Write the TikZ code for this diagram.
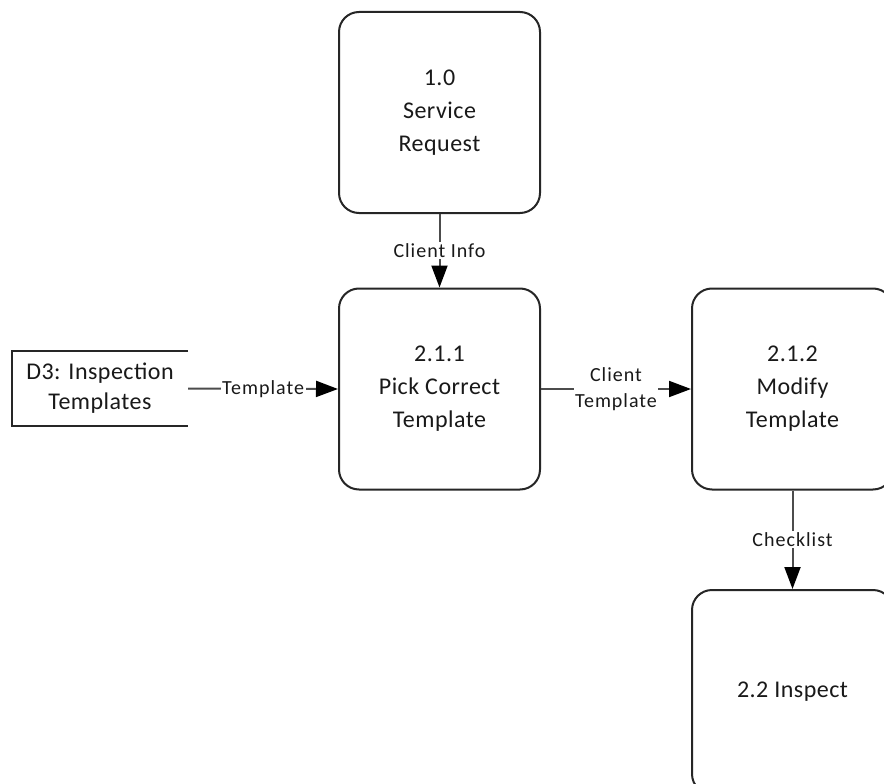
\documentclass[tikz,border=0pt]{standalone}
\usepackage{fontspec}
\setmainfont{Carlito}
\newfontfamily\boxfont[LetterSpace=2]{Carlito}
\newfontfamily\lblfont[LetterSpace=5]{Carlito}
\usetikzlibrary{arrows.meta}
\begin{document}
\begin{tikzpicture}[x=1pt,y=-1pt,
  proc/.style={draw=black!85, line width=2pt, rounded corners=20pt, align=center,
    minimum width=201pt, minimum height=201pt, inner sep=0pt,
    font=\boxfont\fontsize{24}{33}\selectfont, text=black!90},
  storetext/.style={align=center, inner sep=0pt, minimum width=176pt, minimum height=75pt,
    font=\boxfont\fontsize{24}{30}\selectfont, text=black!90},
  flow/.style={draw=black!70, line width=2pt,
    arrows={-{Triangle[length=22pt,width=16pt,fill=black,color=black]}}},
  lbl/.style={fill=white, inner sep=1.5pt, align=center, text=black!90,
    font=\lblfont\fontsize{20}{26}\selectfont}
]
\useasboundingbox (0,0) rectangle (884,784);
\fill[white] (0,0) rectangle (884,784);

\node[proc] (sr) at (439.5,112.5) {1.0\\Service\\Request};
\node[proc] (pick) at (439.5,389) {2.1.1\\Pick Correct\\Template};
\node[proc] (mod) at (792.5,389) {2.1.2\\Modify\\Template};
\node[proc, minimum height=204pt] (insp) at (792.5,692) {2.2 Inspect};

\node[storetext] (store) at (100,388.5) {D3: Inspection\\Templates};
\draw[draw=black!85, line width=2pt] (store.north east) -- (store.north west) -- (store.south west) -- (store.south east);

\draw[flow] (sr.south) -- node[lbl] (l1) {Client Info} (pick.north);
\draw[flow] (store.east) -- node[lbl] (l2) {Template} (pick.west);
\draw[flow] (pick.east) -- node[lbl] (l3) {Client\\Template} (mod.west);
\draw[flow] (mod.south) -- node[lbl] (l4) {Checklist} (insp.north);
\end{tikzpicture}
\end{document}
